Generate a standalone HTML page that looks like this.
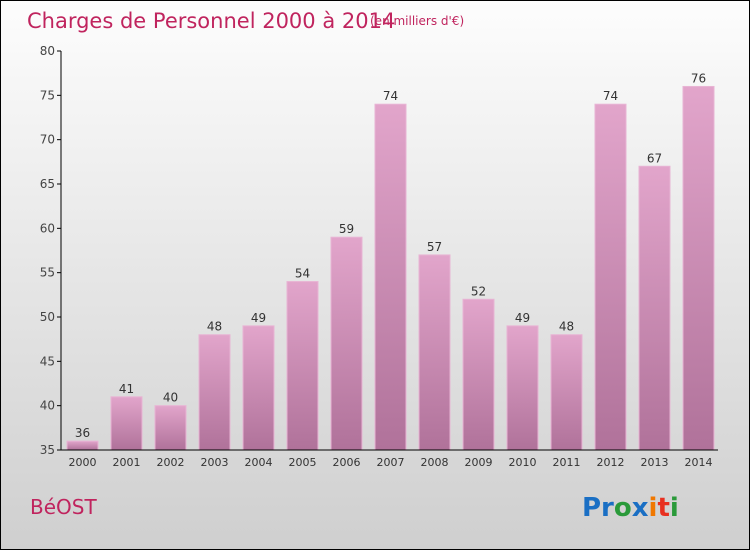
<!DOCTYPE html>
<html><head><meta charset="utf-8"><style>
body{margin:0;width:750px;height:550px;overflow:hidden;font-family:"DejaVu Sans","Liberation Sans",sans-serif}
</style></head><body>
<svg id="c" width="750" height="550" xmlns="http://www.w3.org/2000/svg">
<defs>
<linearGradient id="bg" x1="0" y1="0" x2="0" y2="1"><stop offset="0" stop-color="#fdfdfd"/><stop offset="1" stop-color="#cfcfcf"/></linearGradient>
<linearGradient id="bar" x1="0" y1="0" x2="0" y2="1"><stop offset="0" stop-color="#e2a5cb"/><stop offset="1" stop-color="#b0729a"/></linearGradient>
</defs>
<rect x="0.5" y="0.5" width="749" height="549" fill="url(#bg)" stroke="#000"/>
<text x="27" y="28" font-size="21" fill="#c0245e">Charges de Personnel 2000 à 2014</text>
<text x="370" y="25" font-size="12" fill="#c0245e">(en milliers d'€)</text>
<g id="plot"></g>
<text x="30" y="514" font-size="20" fill="#c0245e">BéOST</text>
<text x="582" y="516" font-size="26" font-weight="bold"><tspan fill="#1a6fc4">Pr</tspan><tspan fill="#2a9a3a">o</tspan><tspan fill="#1a6fc4">x</tspan><tspan fill="#f07800">i</tspan><tspan fill="#e83020">t</tspan><tspan fill="#2a9a3a">i</tspan></text>
</svg>
<script>
const years=["2000","2001","2002","2003","2004","2005","2006","2007","2008","2009","2010","2011","2012","2013","2014"];
const values=[36,41,40,48,49,54,59,74,57,52,49,48,74,67,76];
const yTicks=[35,40,45,50,55,60,65,70,75,80];
const ns="http://www.w3.org/2000/svg";
const g=document.getElementById('plot');
const y0=450,y1=51,vmin=35,vmax=80;
const y=v=>y0-(v-vmin)/(vmax-vmin)*(y0-y1);
const x=i=>82.5+i*44;
function mk(t,a){const e=document.createElementNS(ns,t);for(const k in a)e.setAttribute(k,a[k]);g.appendChild(e);return e;}
values.forEach((v,i)=>{
 const r=mk('rect',{x:x(i)-15.5,y:y(v),width:31,height:y0-y(v),fill:'url(#bar)',stroke:'#e8b4d4','stroke-width':1});
 
 
 const t=mk('text',{x:x(i),y:y(v)-4,'text-anchor':'middle','font-size':12,fill:'#333'});
 t.textContent=v;
 
 
 const xl=mk('text',{x:x(i),y:466,'text-anchor':'middle','font-size':11,fill:'#333'});
 xl.textContent=years[i];
 
 
});
yTicks.forEach(v=>{
 const l=mk('line',{x1:57,x2:61,y1:y(v),y2:y(v),stroke:'#000'});
 
 
 const t=mk('text',{x:55,y:y(v)+4,'text-anchor':'end','font-size':12,fill:'#444'});
 t.textContent=v;
 
 
});
const ya=mk('line',{x1:61,x2:61,y1:y1,y2:y0,stroke:'#000'});


const xa=mk('line',{x1:61,x2:718,y1:y0,y2:y0,stroke:'#000'});


</script>
</body></html>
